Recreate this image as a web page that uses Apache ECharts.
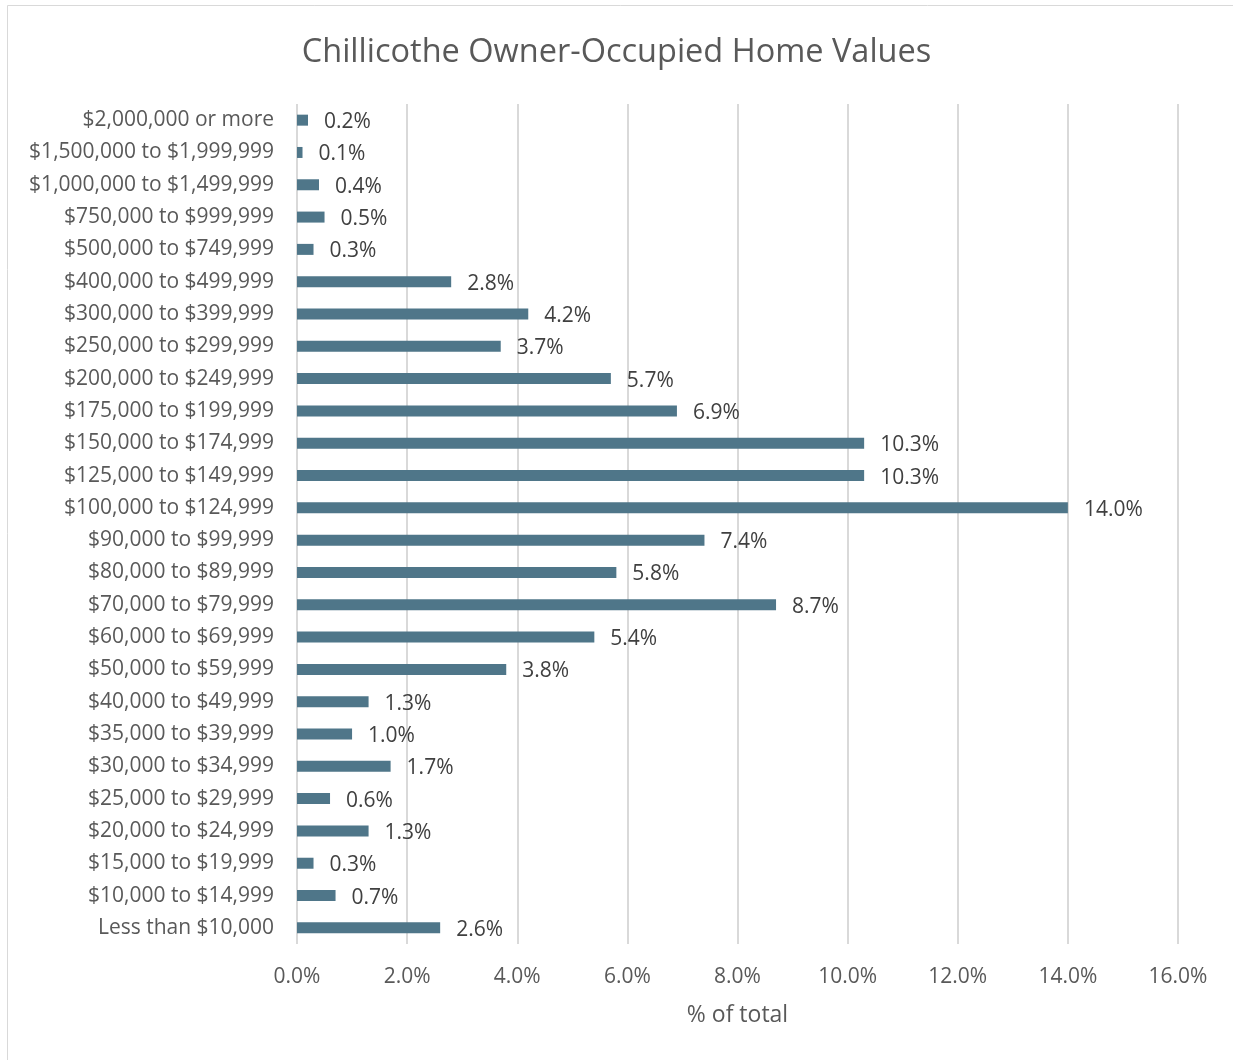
<!DOCTYPE html>
<html>
<head>
<meta charset="utf-8">
<script src="https://cdn.jsdelivr.net/npm/echarts@6/dist/echarts.min.js"></script>
<style>
  html, body { margin: 0; padding: 0; background: #fff; }
  #main { width: 1233px; height: 1060px; }
</style>
</head>
<body>
<div id="main"></div>
<script>
var myChart = echarts.init(document.getElementById("main"));

// bottom to top, as the category axis draws them
var categories = [
	'Less than $10,000',
	'$10,000 to $14,999',
	'$15,000 to $19,999',
	'$20,000 to $24,999',
	'$25,000 to $29,999',
	'$30,000 to $34,999',
	'$35,000 to $39,999',
	'$40,000 to $49,999',
	'$50,000 to $59,999',
	'$60,000 to $69,999',
	'$70,000 to $79,999',
	'$80,000 to $89,999',
	'$90,000 to $99,999',
	'$100,000 to $124,999',
	'$125,000 to $149,999',
	'$150,000 to $174,999',
	'$175,000 to $199,999',
	'$200,000 to $249,999',
	'$250,000 to $299,999',
	'$300,000 to $399,999',
	'$400,000 to $499,999',
	'$500,000 to $749,999',
	'$750,000 to $999,999',
	'$1,000,000 to $1,499,999',
	'$1,500,000 to $1,999,999',
	'$2,000,000 or more'
];

var pctValues = [2.6, 0.7, 0.3, 1.3, 0.6, 1.7, 1.0, 1.3, 3.8, 5.4, 8.7, 5.8, 7.4, 14.0,
	10.3, 10.3, 6.9, 5.7, 3.7, 4.2, 2.8, 0.3, 0.5, 0.4, 0.1, 0.2];

var font = '"Open Sans", sans-serif';

var option = {
	backgroundColor: '#ffffff',
	title: {
		text: 'Chillicothe Owner-Occupied Home Values',
		left: 'center',
		top: 31,
		textStyle: {
			fontFamily: font,
			fontSize: 32.5,
			fontWeight: 'normal',
			color: '#595959'
		}
	},
	graphic: [{
		type: 'rect',
		shape: { x: 7.5, y: 5.5, width: 1240, height: 1070 },
		style: { fill: 'none', stroke: '#d9d9d9', lineWidth: 1 },
		silent: true
	}],
	grid: {
		left: 297,
		right: 55,
		top: 104,
		bottom: 116
	},
	xAxis: {
		type: 'value',
		min: 0,
		max: 16,
		interval: 2,
		name: '% of total',
		nameLocation: 'middle',
		nameGap: 60,
		nameTextStyle: { fontFamily: font, fontSize: 23, color: '#595959' },
		axisLine: { show: false },
		axisTick: { show: false },
		axisLabel: {
			fontFamily: font,
			fontSize: 21,
			color: '#595959',
			margin: 23,
			formatter: function(v) { return v.toFixed(1) + '%'; }
		},
		splitLine: { lineStyle: { color: '#d9d9d9', width: 2 } }
	},
	yAxis: {
		type: 'category',
		data: categories,
		axisLine: { show: false },
		axisTick: { show: false },
		axisLabel: {
			fontFamily: font,
			fontSize: 21,
			color: '#595959',
			margin: 23,
			padding: [4, 0, 0, 0]
		}
	},
	series: [{
		type: 'bar',
		data: pctValues,
		barWidth: 11,
		itemStyle: { color: '#4f7689' },
		label: {
			show: true,
			position: 'right',
			distance: 16,
			offset: [0, 2],
			fontFamily: font,
			fontSize: 21,
			color: '#404040',
			formatter: function(p) { return p.value.toFixed(1) + '%'; }
		}
	}]
};

myChart.setOption(option);
</script>
</body>
</html>
